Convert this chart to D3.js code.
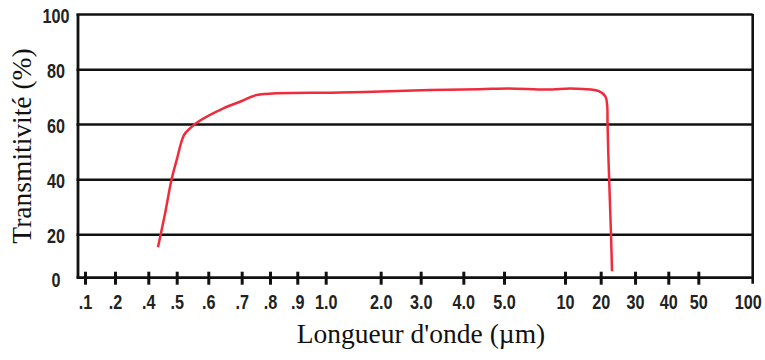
<!DOCTYPE html>
<html>
<head>
<meta charset="utf-8">
<script src="https://cdn.jsdelivr.net/npm/d3@7.9.0/dist/d3.min.js"></script>
<style>
  html, body { margin: 0; padding: 0; background: #fff; }
  .tick text { font-family: "Liberation Sans", Arial, sans-serif; font-weight: bold; font-size: 21px; fill: #222; }
  .title { font-family: "Liberation Serif", "DejaVu Serif", serif; font-size: 27.5px; fill: #111; }
</style>
</head>
<body>
<svg id="chart" width="765" height="360"></svg>
<script>
// wavelength ticks (µm) and their printed labels
const xTicks = [0.1, 0.2, 0.4, 0.5, 0.6, 0.7, 0.8, 0.9, 1, 2, 3, 4, 5, 10, 20, 30, 40, 50, 100];
const xTickLabels = ['.1', '.2', '.4', '.5', '.6', '.7', '.8', '.9', '1.0', '2.0', '3.0', '4.0', '5.0', '10', '20', '30', '40', '50', '100'];
const yTicks = [0, 20, 40, 60, 80, 100];

// transmission curve
const wavelength = [0.434, 0.459, 0.482, 0.5, 0.523, 0.542, 0.568, 0.645, 0.70, 0.753, 1.26, 2.0, 3.22, 4.4, 5.4, 8.5, 11.4, 15, 19.5, 21.4, 21.9, 22.0, 22.2, 22.6, 23.0, 23.3];
const transmission = [14, 27.6, 40, 47, 56, 58.4, 60.8, 65.7, 68.4, 70.6, 71.5, 71.9, 72.4, 72.7, 73, 72.6, 73, 72.8, 72, 70, 66.5, 60, 50, 35, 20, 3];

// the printed axes are hand spaced, so tick places are given as fractions of the plot
const xTickFrac = [0.0104, 0.0548, 0.1042, 0.1463, 0.1931, 0.2426, 0.2846, 0.3250, 0.3671, 0.4486, 0.5079, 0.5711, 0.6314, 0.7218, 0.7747, 0.8256, 0.8749, 0.9194, 1];
const yTickFrac = [0, 0.1646, 0.3731, 0.5829, 0.7903, 1];

const W = 765, H = 360;
const margin = { top: 14, right: 12.3, bottom: 82.3, left: 78 };
const innerW = W - margin.left - margin.right;
const innerH = H - margin.top - margin.bottom;
const squeeze = 0.77; // the printed digits are a condensed face

const svg = d3.select('#chart');
const g = svg.append('g').attr('transform', `translate(${margin.left},${margin.top})`);

const x = d3.scaleLinear().domain(xTicks).range(xTickFrac.map(f => f * innerW));
const y = d3.scaleLinear().domain(yTicks).range(yTickFrac.map(f => innerH - f * innerH));

// horizontal grid + y labels
const yAxis = g.append('g')
  .call(d3.axisLeft(y).tickValues(yTicks).tickSize(0).tickPadding(0));
yAxis.select('.domain').remove();
yAxis.selectAll('.tick line')
  .attr('x1', -1.5).attr('x2', innerW)
  .attr('stroke', '#111').attr('stroke-width', 2.6)
  .filter(d => d === 0).remove();
yAxis.selectAll('.tick text')
  .attr('x', 0).attr('text-anchor', 'middle').attr('dy', '0.36em')
  .attr('transform', `translate(-22,1) scale(${squeeze},1)`);

// left and right frame lines
g.append('line').attr('x1', 0).attr('x2', 0).attr('y1', 0).attr('y2', innerH)
  .attr('stroke', '#111').attr('stroke-width', 2.8);
g.append('line').attr('x1', innerW).attr('x2', innerW).attr('y1', 0).attr('y2', innerH + 6)
  .attr('stroke', '#111').attr('stroke-width', 2.6);

// bottom axis with ticks crossing the line
const xAxis = g.append('g').attr('transform', `translate(0,${innerH})`)
  .call(d3.axisBottom(x).tickValues(xTicks).tickFormat((d, i) => xTickLabels[i]).tickSize(7).tickPadding(9));
xAxis.select('.domain').attr('d', `M${-1.5},0H${innerW}`).attr('stroke', '#111').attr('stroke-width', 2.8);
xAxis.selectAll('.tick line').attr('y1', -6).attr('y2', 7).attr('stroke', '#111').attr('stroke-width', 3);
xAxis.selectAll('.tick').filter(d => d === 100).select('line').remove();
xAxis.selectAll('.tick text')
  .attr('transform', d => `translate(${d === 100 ? -5 : 0},0) scale(${squeeze},1)`);

// curve
const pts = wavelength.map((w, i) => [w, transmission[i]]);
const line = d3.line().x(d => x(d[0])).y(d => y(d[1])).curve(d3.curveCatmullRom.alpha(0.5));
g.append('path').datum(pts).attr('d', line)
  .attr('fill', 'none').attr('stroke', '#ef2b3c').attr('stroke-width', 2.5)
  .attr('stroke-linejoin', 'round');

// titles
svg.append('text').attr('class', 'title')
  .attr('x', 421).attr('y', 343).attr('text-anchor', 'middle')
  .text("Longueur d'onde (µm)");
svg.append('text').attr('class', 'title')
  .attr('transform', 'translate(31,146) rotate(-90)').attr('text-anchor', 'middle')
  .text('Transmitivité (%)');
</script>
</body>
</html>
